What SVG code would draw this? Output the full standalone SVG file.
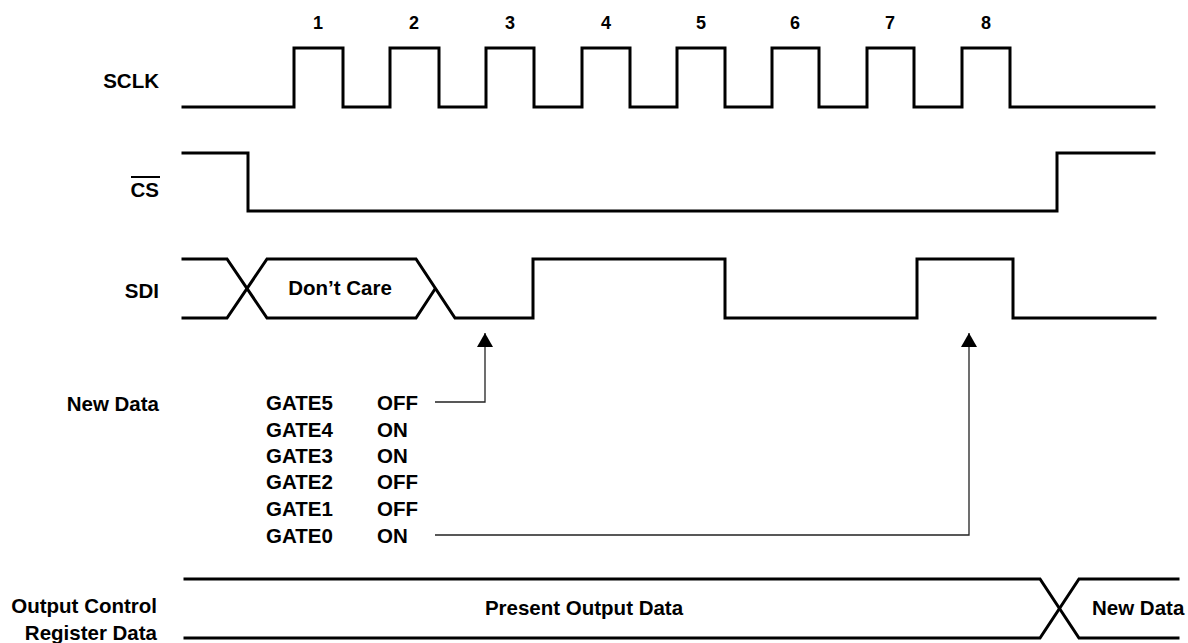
<svg xmlns="http://www.w3.org/2000/svg" width="1188" height="643" viewBox="0 0 1188 643">
<defs>
<style>
text{font-family:"Liberation Sans",Arial,sans-serif;font-weight:bold;fill:#000}
.lbl{font-size:20.5px;text-anchor:end}
.num{font-size:18px;text-anchor:middle}
.tbl{font-size:20.5px}
.mid{font-size:20.5px;text-anchor:middle}
.sig{fill:none;stroke:#000;stroke-width:3;stroke-linejoin:miter;stroke-linecap:square}
.conn{fill:none;stroke:#222;stroke-width:1.3}
</style>
<marker id="arr" viewBox="0 0 14 16" refX="14" refY="8" markerWidth="14" markerHeight="16" markerUnits="userSpaceOnUse" orient="auto">
<path d="M0,0 L14,8 L0,16 Z" fill="#000"/>
</marker>
</defs>
<rect width="1188" height="643" fill="#fff"/>

<g id="sclk">
<text class="lbl" x="159" y="88">SCLK</text>
<path class="sig" d="M183,107 H294 V48 H343 V107 H390 V48 H439 V107 H486 V48 H534 V107 H582 V48 H630 V107 H677 V48 H725 V107 H772 V48 H819 V107 H867 V48 H914 V107 H962 V48 H1010 V107 H1154"/>
<text class="num" x="318" y="29">1</text>
<text class="num" x="414" y="29">2</text>
<text class="num" x="510" y="29">3</text>
<text class="num" x="606" y="29">4</text>
<text class="num" x="701" y="29">5</text>
<text class="num" x="795" y="29">6</text>
<text class="num" x="890" y="29">7</text>
<text class="num" x="986" y="29">8</text>
</g>

<g id="cs">
<text class="lbl" x="159" y="197">CS</text>
<line x1="131" y1="177" x2="160" y2="177" stroke="#000" stroke-width="2"/>
<path class="sig" d="M183,153 H248 V211 H1057 V153 H1154"/>
</g>

<g id="sdi">
<text class="lbl" x="159" y="298">SDI</text>
<path class="sig" d="M183,259 H227 L267,318 H416 L435,289"/>
<path class="sig" d="M183,318 H227 L267,259 H416 L455,318 H533 V259 H725 V318 H917 V259 H1013 V318 H1155"/>
<text class="mid" x="340" y="295">Don’t Care</text>
</g>

<g id="newdata">
<text class="lbl" x="159" y="411">New Data</text>
<text class="tbl" x="266" y="410">GATE5</text><text class="tbl" x="377" y="410">OFF</text>
<text class="tbl" x="266" y="437">GATE4</text><text class="tbl" x="377" y="437">ON</text>
<text class="tbl" x="266" y="463">GATE3</text><text class="tbl" x="377" y="463">ON</text>
<text class="tbl" x="266" y="489">GATE2</text><text class="tbl" x="377" y="489">OFF</text>
<text class="tbl" x="266" y="516">GATE1</text><text class="tbl" x="377" y="516">OFF</text>
<text class="tbl" x="266" y="543">GATE0</text><text class="tbl" x="377" y="543">ON</text>
</g>

<g id="outreg">
<text class="lbl" x="157" y="613">Output Control</text>
<text class="lbl" x="157" y="640">Register Data</text>
<path class="sig" d="M185,579 H1040 L1079,638 H1178"/>
<path class="sig" d="M185,638 H1040 L1079,579 H1178"/>
<text class="mid" x="584" y="615">Present Output Data</text>
<text class="tbl" x="1092" y="615">New Data</text>
</g>

<g id="connectors">
<path class="conn" d="M435,402 H485 V333" marker-end="url(#arr)"/>
<path class="conn" d="M435,535 H969 V333" marker-end="url(#arr)"/>
</g>
</svg>
